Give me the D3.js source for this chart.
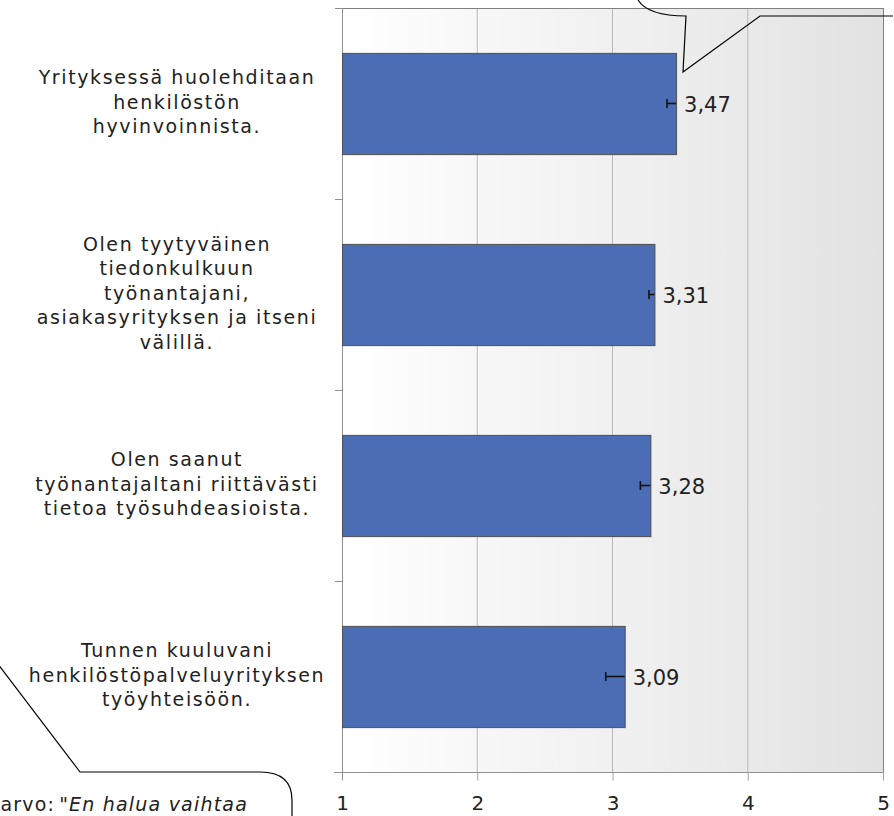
<!DOCTYPE html>
<html>
<head>
<meta charset="utf-8">
<script src="https://cdn.jsdelivr.net/npm/d3@7"></script>
<style>
  html, body { margin: 0; padding: 0; background: #ffffff; }
  svg { display: block; }
  text { font-family: Verdana, "DejaVu Sans", sans-serif; fill: #222; }
</style>
</head>
<body>
<svg id="chart" width="894" height="816"></svg>
<script>
// ---- data ----
const categories = [
  "Yrityksessä huolehditaan\nhenkilöstön\nhyvinvoinnista.",
  "Olen tyytyväinen\ntiedonkulkuun\ntyönantajani,\nasiakasyrityksen ja itseni\nvälillä.",
  "Olen saanut\ntyönantajaltani riittävästi\ntietoa työsuhdeasioista.",
  "Tunnen kuuluvani\nhenkilöstöpalveluyrityksen\ntyöyhteisöön."
];
const values = [3.47, 3.31, 3.28, 3.09];
const valueLabels = ["3,47", "3,31", "3,28", "3,09"];
const errorMinus = [0.067, 0.04, 0.074, 0.14];
const xTicks = [1, 2, 3, 4, 5];
const calloutText = ["Keskiarvo:", "\"En halua vaihtaa"];

// ---- layout ----
const svg = d3.select("#chart");
const plot = { left: 342, right: 883, top: 8, bottom: 772 };

const x = d3.scaleLinear().domain([1, 5]).range([plot.left, plot.right]);
const y = d3.scaleBand().domain(categories).range([plot.top, plot.bottom])
  .paddingInner(0.47).paddingOuter(0.235);

// background gradient
const defs = svg.append("defs");
const grad = defs.append("linearGradient").attr("id", "bg")
  .attr("x1", "0%").attr("x2", "100%").attr("y1", "0%").attr("y2", "0%");
grad.append("stop").attr("offset", "0%").attr("stop-color", "#ffffff");
grad.append("stop").attr("offset", "100%").attr("stop-color", "#e2e2e2");

svg.append("rect")
  .attr("x", plot.left).attr("y", plot.top)
  .attr("width", plot.right - plot.left).attr("height", plot.bottom - plot.top)
  .attr("fill", "url(#bg)");

// vertical gridlines
svg.append("g").selectAll("line").data(xTicks.slice(1, -1)).join("line")
  .attr("x1", d => x(d)).attr("x2", d => x(d))
  .attr("y1", plot.top).attr("y2", plot.bottom)
  .attr("stroke", "#b8b8b8").attr("stroke-width", 1);

// plot border top & right
svg.append("line").attr("x1", plot.left).attr("x2", plot.right + 0.5)
  .attr("y1", plot.top + 0.5).attr("y2", plot.top + 0.5)
  .attr("stroke", "#808080");
svg.append("line").attr("x1", plot.right + 0.5).attr("x2", plot.right + 0.5)
  .attr("y1", plot.top).attr("y2", plot.bottom)
  .attr("stroke", "#808080");

// x axis
const xAxis = d3.axisBottom(x).tickValues(xTicks).tickSize(8).tickPadding(18)
  .tickFormat(d3.format("d"));
const gx = svg.append("g").attr("transform", `translate(0,${plot.bottom + 0.5})`).call(xAxis);
gx.select(".domain").attr("stroke", "#909090").attr("d", `M${plot.left - 8},0H${plot.right + 0.5}`);
gx.selectAll(".tick line").attr("stroke", "#a0a0a0");
gx.selectAll(".tick text").attr("font-size", 20).attr("fill", "#222").attr("dy", "0.55em")
  .style("font-family", "Verdana, 'DejaVu Sans', sans-serif");

// y axis (category boundaries ticks)
const boundaries = categories.map(c => y(c) - y.step() * y.paddingInner() / 2).concat([plot.bottom]);
svg.append("line").attr("x1", plot.left + 0.5).attr("x2", plot.left + 0.5)
  .attr("y1", plot.top).attr("y2", plot.bottom + 8)
  .attr("stroke", "#909090");
svg.append("g").selectAll("line").data(boundaries).join("line")
  .attr("x1", plot.left - 7).attr("x2", plot.left)
  .attr("y1", d => Math.round(d) + 0.5).attr("y2", d => Math.round(d) + 0.5)
  .attr("stroke", "#909090");

// bars
svg.append("g").selectAll("rect").data(values).join("rect")
  .attr("x", x(1) + 0.5)
  .attr("y", (d, i) => y(categories[i]) + 0.5)
  .attr("width", d => x(d) - x(1))
  .attr("height", y.bandwidth())
  .attr("fill", "#4a6db4")
  .attr("stroke", "#4f4f4f").attr("stroke-width", 1);

// error bars (minus side)
const eg = svg.append("g").attr("stroke", "#111").attr("stroke-width", 1.6);
values.forEach((v, i) => {
  const cy = y(categories[i]) + y.bandwidth() / 2;
  const x0 = x(v - errorMinus[i]);
  eg.append("line").attr("x1", x0).attr("x2", x(v)).attr("y1", cy).attr("y2", cy);
  eg.append("line").attr("x1", x0).attr("x2", x0).attr("y1", cy - 4.5).attr("y2", cy + 4.5);
});

// value labels
svg.append("g").selectAll("text").data(values).join("text")
  .attr("x", d => x(d) + 8)
  .attr("y", (d, i) => y(categories[i]) + y.bandwidth() / 2 + 8)
  .attr("font-size", 21)
  .text((d, i) => valueLabels[i]);

// category labels
const lineH = 24.5;
const lg = svg.append("g");
categories.forEach(c => {
  const lines = c.split("\n");
  const cy = y(c) + y.bandwidth() / 2 - 2;
  const t = lg.append("text").attr("text-anchor", "middle").attr("font-size", 19)
    .attr("letter-spacing", 1.6);
  lines.forEach((l, j) => {
    t.append("tspan").attr("x", 177)
      .attr("y", cy + (j - (lines.length - 1) / 2) * lineH + 7)
      .text(l);
  });
});

// callouts
svg.append("path")
  .attr("d", "M638,0 Q648,16 686,16 L683,72 L760,16 L893,16")
  .attr("fill", "none").attr("stroke", "#000").attr("stroke-width", 1.2);
svg.append("path")
  .attr("d", "M-2,664 L80,772 L260,772 C282,772 292,782 292,800 L292,816")
  .attr("fill", "none").attr("stroke", "#000").attr("stroke-width", 1.2);

const ct = svg.append("text").attr("x", 248).attr("y", 811)
  .attr("text-anchor", "end").attr("font-size", 19).attr("letter-spacing", 1.2);
ct.append("tspan").text(calloutText[0]);
ct.append("tspan").attr("dx", 4).attr("font-style", "italic").text(calloutText[1]);
</script>
</body>
</html>
